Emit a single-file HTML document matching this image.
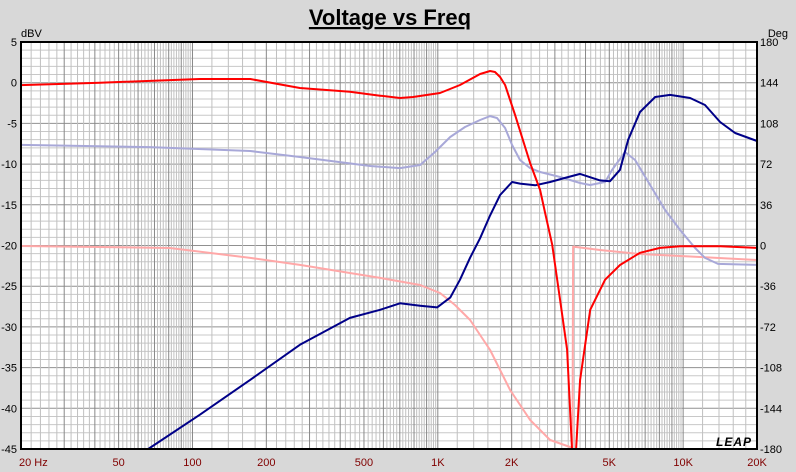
<!DOCTYPE html>
<html><head><meta charset="utf-8"><style>
body{margin:0;background:#d8d8d8;}
svg{display:block;font-family:"Liberation Sans",sans-serif;}
</style></head><body>
<svg id="chart" width="796" height="472">
<rect x="0" y="0" width="796" height="472" fill="#d8d8d8"/>
<text x="390" y="25" text-anchor="middle" font-size="22" font-weight="bold" text-decoration="underline">Voltage vs Freq</text>
<text x="21" y="37" font-size="11">dBV</text>
<text x="788" y="37" text-anchor="end" font-size="11">Deg</text>
<g id="grid"></g><g id="series"></g><g id="labels"></g>
<rect x="21" y="42" width="736" height="407" fill="none" stroke="#000" stroke-width="2"/>
<text x="752" y="446" text-anchor="end" font-size="12" font-weight="bold" font-style="italic" letter-spacing="1">LEAP</text>
</svg>
<script>
const xTickFreqs=[20,50,100,200,500,1000,2000,5000,10000,20000];
const xTickLabels=["20  Hz","50","100","200","500","1K","2K","5K","10K","20K"];
const leftTicks=[5,0,-5,-10,-15,-20,-25,-30,-35,-40,-45];
const rightTicks=[180,144,108,72,36,0,-36,-72,-108,-144,-180];
const redFreq=[20,42,107,172,274,438,582,701,793,1021,1232,1487,1633,1711,1795,1881,1970,2066,2378,2611,2736,2925,3150,3366,3524,3660,3800,4180,4806,5531,6670,8050,9720,14170,20000];
const redDb=[-0.3,0,0.45,0.45,-0.65,-1.1,-1.6,-1.88,-1.76,-1.27,-0.28,1.07,1.44,1.31,0.7,-0.28,-2.13,-3.97,-9.86,-13.18,-16,-19.9,-26.7,-32.8,-45,-45,-36.5,-27.9,-24.2,-22.4,-20.9,-20.3,-20.1,-20.1,-20.3];
const navyFreq=[66,107,172,274,438,582,701,847,993,1123,1232,1354,1487,1633,1795,2009,2163,2491,2869,3303,3802,4583,5035,5531,5968,6670,7690,8850,10670,12280,14150,16290,20000];
const navyDb=[-45,-40.8,-36.5,-32.2,-28.9,-27.9,-27.1,-27.4,-27.6,-26.4,-24.2,-21.5,-19.1,-16.3,-13.8,-12.2,-12.4,-12.6,-12.2,-11.7,-11.2,-12.0,-12.1,-10.7,-7.0,-3.6,-1.76,-1.5,-1.88,-2.74,-4.83,-6.18,-7.16];
const lblueFreq=[20,67,172,274,530,701,847,974,1123,1291,1487,1633,1743,1881,2009,2163,2378,2611,3150,3802,4176,4806,5128,5794,6370,7330,8440,9720,11190,12280,13870,20000];
const lblueDeg=[89,87,83.6,78.3,70.3,68.5,71.2,82.7,96,104.8,111,114.5,112.8,103.9,88.9,75.6,68.5,65,60.6,55.3,53.5,56.2,66.8,82.7,75.6,53.5,31.4,13.7,-2.2,-11,-16.3,-17.2];
const pinkFreq=[20,81,172,274,438,582,847,1021,1175,1354,1633,1970,2378,2869,3460,3540,3560,4583,6670,11730,20000];
const pinkDeg=[-0.4,-2.2,-11,-17.2,-24.3,-28.7,-34.9,-42,-52.6,-65.9,-92.4,-127.8,-154.3,-172,-178.2,-180,-1,-4,-7.5,-10.2,-12.8];

const L=21,R=757,T=42,B=449;
const NS="http://www.w3.org/2000/svg";
function xs(f){return L+(R-L)*Math.log10(f/20)/3;}
function yL(d){return T+(5-d)/50*(B-T);}
function yR(d){return T+(180-d)/360*(B-T);}
function mk(tag,attrs,parent){const e=document.createElementNS(NS,tag);for(const k in attrs)e.setAttribute(k,attrs[k]);parent.appendChild(e);return e;}
const grid=document.getElementById('grid'),series=document.getElementById('series'),labels=document.getElementById('labels');
mk('rect',{x:L,y:T,width:R-L,height:B-T,fill:'#fff'},grid);
for(let d=5;d>=-45;d--){const y=yL(d);const l=mk('line',{x1:L,y1:y,x2:R,y2:y,stroke:d%5===0?'#909090':'#c8c8c8','stroke-width':1},grid);

}
for(let dec=10;dec<=10000;dec*=10){for(let m=1;m<10;m++){for(let k=0;k<5;k++){const f=dec*(m+k*0.2);if(f<20||f>=20000)continue;const x=xs(f);
const l=mk('line',{x1:x,y1:T,x2:x,y2:B,stroke:k===0?'#888':'#c0c0c0','stroke-width':1},grid);

}}}
xTickFreqs.forEach((f,i)=>{const t=mk('text',{x:xs(f)+(i===0?-2:0),y:466,'font-size':11,fill:'#800000','text-anchor':i===0?'start':'middle','xml:space':'preserve'},labels);t.textContent=xTickLabels[i];

});
leftTicks.forEach(v=>{const t=mk('text',{x:17,y:yL(v)+4,'font-size':11,'text-anchor':'end'},labels);t.textContent=v;

});
rightTicks.forEach(v=>{const t=mk('text',{x:760,y:yR(v)+4,'font-size':11,'text-anchor':'start'},labels);t.textContent=v;

});
function line(fr,vals,ysc,color,w,name){const pts=fr.map((f,i)=>xs(f).toFixed(1)+','+Math.min(B,Math.max(T,ysc(vals[i]))).toFixed(1)).join(' ');
const p=mk('polyline',{points:pts,fill:'none',stroke:color,'stroke-width':w,'stroke-linejoin':'round'},series);

}
line(pinkFreq,pinkDeg,yR,'#ffa8a8',2,'phase-curve-pink');
line(lblueFreq,lblueDeg,yR,'#a8a8d8',2,'phase-curve-lightblue');
line(navyFreq,navyDb,yL,'#000088',2,'spl-curve-navy');
line(redFreq,redDb,yL,'#ff0000',2,'spl-curve-red');
</script>
</body></html>
